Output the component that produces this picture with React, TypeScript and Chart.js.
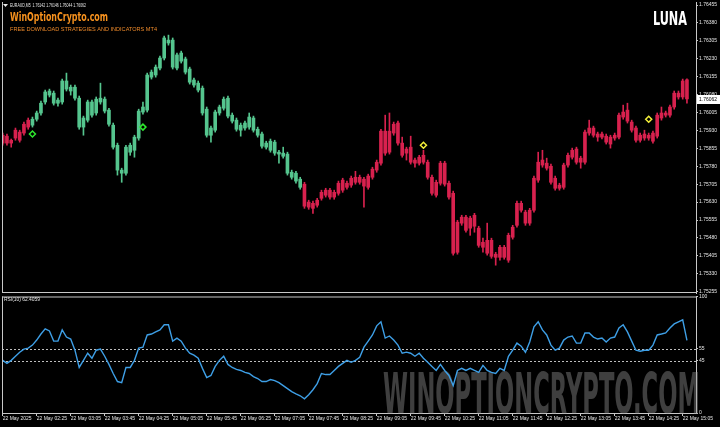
import React, { useEffect, useRef } from 'react';
import { Chart, registerables } from 'chart.js';
Chart.register(...registerables);

// ---------------- data ----------------
const symbolTitle = 'EURAUD,M5  1.76142 1.76146 1.76044 1.76062';
const brandTitle = 'WinOptionCrypto.com';
const brandSubtitle = 'FREE DOWNLOAD STRATEGIES AND INDICATORS MT4';
const indicatorName = 'LUNA';
const rsiPeriod = 10;

const openPrices = [
  1.75877, 1.75906, 1.75889, 1.75898, 1.75923, 1.75919, 1.75944, 1.75952, 1.75977, 1.76003,
  1.76049, 1.76095, 1.76086, 1.76057, 1.76049, 1.76137, 1.76111, 1.76111, 1.76065, 1.75944,
  1.75973, 1.75994, 1.76003, 1.76065, 1.76061, 1.76015, 1.75952, 1.75868, 1.75751, 1.75751,
  1.75839, 1.75847, 1.75898, 1.76007, 1.76015, 1.76153, 1.76162, 1.76191, 1.76233, 1.76308,
  1.76308, 1.76191, 1.76254, 1.76229, 1.76187, 1.76141, 1.76128, 1.76107, 1.76019, 1.75910,
  1.75931, 1.76003, 1.76023, 1.76065, 1.75994, 1.75973, 1.75931, 1.75940, 1.75944, 1.75982,
  1.75935, 1.75915, 1.75860, 1.75885, 1.75881, 1.75839, 1.75835, 1.75831, 1.75755, 1.75751,
  1.75726, 1.75705, 1.75630, 1.75604, 1.75617, 1.75646, 1.75659, 1.75680, 1.75651, 1.75667,
  1.75680, 1.75692, 1.75701, 1.75734, 1.75734, 1.75697, 1.75692, 1.75734, 1.75764, 1.75793,
  1.75927, 1.75839, 1.75919, 1.75961, 1.75877, 1.75835, 1.75860, 1.75793, 1.75793, 1.75826,
  1.75797, 1.75734, 1.75659, 1.75709, 1.75793, 1.75709, 1.75667, 1.75420, 1.75542, 1.75567,
  1.75521, 1.75575, 1.75521, 1.75441, 1.75470, 1.75470, 1.75399, 1.75399, 1.75441, 1.75387,
  1.75483, 1.75533, 1.75625, 1.75588, 1.75542, 1.75596, 1.75722, 1.75806, 1.75793, 1.75780,
  1.75730, 1.75688, 1.75692, 1.75785, 1.75818, 1.75852, 1.75797, 1.75797, 1.75919, 1.75940,
  1.75915, 1.75915, 1.75906, 1.75873, 1.75898, 1.75902, 1.75986, 1.76015, 1.75965, 1.75940,
  1.75889, 1.75915, 1.75898, 1.75885, 1.75906, 1.76003, 1.75994, 1.75994, 1.76028, 1.76086,
  1.76070, 1.76142,
];
const highPrices = [
  1.75919, 1.75915, 1.75894, 1.75940, 1.75931, 1.75965, 1.75982, 1.75986, 1.76011, 1.76053,
  1.76099, 1.76103, 1.76095, 1.76065, 1.76145, 1.76170, 1.76120, 1.76120, 1.76074, 1.75990,
  1.76057, 1.76057, 1.76070, 1.76128, 1.76070, 1.76023, 1.75961, 1.75877, 1.75772, 1.75868,
  1.75877, 1.75910, 1.76019, 1.76049, 1.76170, 1.76183, 1.76204, 1.76241, 1.76325, 1.76329,
  1.76317, 1.76254, 1.76262, 1.76237, 1.76195, 1.76149, 1.76137, 1.76116, 1.76028, 1.75948,
  1.76015, 1.76036, 1.76070, 1.76074, 1.76003, 1.75982, 1.75961, 1.75969, 1.76003, 1.75990,
  1.75944, 1.75923, 1.75885, 1.75894, 1.75889, 1.75847, 1.75860, 1.75839, 1.75764, 1.75759,
  1.75734, 1.75713, 1.75638, 1.75634, 1.75646, 1.75680, 1.75688, 1.75688, 1.75680, 1.75718,
  1.75730, 1.75718, 1.75739, 1.75759, 1.75743, 1.75734, 1.75747, 1.75776, 1.75806, 1.75935,
  1.75994, 1.76003, 1.75965, 1.75969, 1.75902, 1.75860, 1.75906, 1.75814, 1.75826, 1.75847,
  1.75806, 1.75743, 1.75722, 1.75801, 1.75801, 1.75718, 1.75676, 1.75554, 1.75575, 1.75575,
  1.75571, 1.75583, 1.75529, 1.75479, 1.75542, 1.75479, 1.75420, 1.75449, 1.75449, 1.75500,
  1.75533, 1.75634, 1.75634, 1.75596, 1.75604, 1.75739, 1.75839, 1.75847, 1.75814, 1.75789,
  1.75739, 1.75709, 1.75793, 1.75835, 1.75856, 1.75860, 1.75822, 1.75931, 1.75973, 1.75948,
  1.75923, 1.75923, 1.75915, 1.75910, 1.75919, 1.76003, 1.76036, 1.76044, 1.75973, 1.75948,
  1.75919, 1.75931, 1.75919, 1.75927, 1.76003, 1.76028, 1.76011, 1.76036, 1.76095, 1.76095,
  1.76145, 1.76146,
];
const lowPrices = [
  1.75868, 1.75868, 1.75860, 1.75889, 1.75881, 1.75910, 1.75935, 1.75944, 1.75969, 1.75994,
  1.76040, 1.76070, 1.76036, 1.76032, 1.76040, 1.76095, 1.76078, 1.76057, 1.75935, 1.75910,
  1.75965, 1.75986, 1.75994, 1.76040, 1.76003, 1.75948, 1.75852, 1.75743, 1.75713, 1.75743,
  1.75826, 1.75818, 1.75889, 1.75998, 1.76007, 1.76145, 1.76153, 1.76183, 1.76225, 1.76287,
  1.76187, 1.76183, 1.76212, 1.76166, 1.76124, 1.76111, 1.76091, 1.75994, 1.75902, 1.75881,
  1.75923, 1.75994, 1.76015, 1.75982, 1.75961, 1.75927, 1.75906, 1.75931, 1.75935, 1.75923,
  1.75902, 1.75856, 1.75852, 1.75839, 1.75826, 1.75793, 1.75814, 1.75743, 1.75726, 1.75709,
  1.75684, 1.75604, 1.75600, 1.75583, 1.75609, 1.75638, 1.75651, 1.75642, 1.75642, 1.75659,
  1.75671, 1.75684, 1.75692, 1.75705, 1.75705, 1.75609, 1.75684, 1.75726, 1.75755, 1.75785,
  1.75826, 1.75831, 1.75910, 1.75868, 1.75818, 1.75806, 1.75789, 1.75776, 1.75785, 1.75789,
  1.75726, 1.75659, 1.75651, 1.75701, 1.75697, 1.75642, 1.75408, 1.75412, 1.75533, 1.75504,
  1.75491, 1.75504, 1.75441, 1.75420, 1.75408, 1.75395, 1.75366, 1.75387, 1.75391, 1.75378,
  1.75475, 1.75525, 1.75588, 1.75533, 1.75533, 1.75588, 1.75713, 1.75776, 1.75764, 1.75705,
  1.75680, 1.75680, 1.75684, 1.75776, 1.75810, 1.75789, 1.75772, 1.75789, 1.75910, 1.75902,
  1.75885, 1.75894, 1.75873, 1.75856, 1.75889, 1.75894, 1.75977, 1.75961, 1.75923, 1.75881,
  1.75881, 1.75889, 1.75889, 1.75877, 1.75898, 1.75973, 1.75986, 1.75986, 1.76019, 1.76061,
  1.76061, 1.76044,
];
const closePrices = [
  1.75910, 1.75877, 1.75877, 1.75931, 1.75889, 1.75956, 1.75973, 1.75977, 1.76003, 1.76044,
  1.76091, 1.76078, 1.76044, 1.76044, 1.76137, 1.76103, 1.76095, 1.76065, 1.75944, 1.75982,
  1.76049, 1.76049, 1.76061, 1.76049, 1.76011, 1.75956, 1.75860, 1.75764, 1.75764, 1.75860,
  1.75868, 1.75902, 1.76011, 1.76028, 1.76162, 1.76174, 1.76195, 1.76233, 1.76317, 1.76296,
  1.76195, 1.76246, 1.76220, 1.76174, 1.76132, 1.76120, 1.76099, 1.76003, 1.75910, 1.75940,
  1.76007, 1.76028, 1.76061, 1.75990, 1.75969, 1.75935, 1.75952, 1.75961, 1.75986, 1.75931,
  1.75910, 1.75864, 1.75877, 1.75847, 1.75835, 1.75831, 1.75822, 1.75751, 1.75734, 1.75718,
  1.75692, 1.75613, 1.75609, 1.75625, 1.75638, 1.75671, 1.75680, 1.75651, 1.75671, 1.75709,
  1.75722, 1.75709, 1.75730, 1.75713, 1.75713, 1.75726, 1.75739, 1.75768, 1.75797, 1.75927,
  1.75835, 1.75927, 1.75956, 1.75877, 1.75826, 1.75852, 1.75797, 1.75806, 1.75818, 1.75797,
  1.75734, 1.75667, 1.75713, 1.75793, 1.75705, 1.75651, 1.75416, 1.75546, 1.75567, 1.75512,
  1.75563, 1.75529, 1.75449, 1.75462, 1.75416, 1.75403, 1.75412, 1.75441, 1.75399, 1.75491,
  1.75525, 1.75625, 1.75596, 1.75542, 1.75596, 1.75730, 1.75797, 1.75785, 1.75772, 1.75713,
  1.75688, 1.75701, 1.75785, 1.75826, 1.75847, 1.75797, 1.75814, 1.75923, 1.75940, 1.75910,
  1.75902, 1.75902, 1.75881, 1.75902, 1.75910, 1.75994, 1.76007, 1.75969, 1.75931, 1.75889,
  1.75910, 1.75898, 1.75910, 1.75919, 1.75994, 1.75982, 1.76003, 1.76028, 1.76086, 1.76070,
  1.76137, 1.76062,
];

// LUNA trend colouring: [number of bars, trend]
const trendRuns: [number, 'up' | 'down'][] = [
  [7, 'down'],
  [64, 'up'],
  [91, 'down'],
];
// LUNA signal markers (bar index, price)
const buySignalBars = [7, 33];
const buySignalPrices = [1.75915, 1.75944];
const sellSignalBars = [99, 152];
const sellSignalPrices = [1.75868, 1.75977];

const rsiValues = [
  45.2, 42.6, 45.2, 48.7, 52.2, 54.8, 55.7, 58.3, 62.6, 67.8,
  72.2, 70.4, 61.7, 61.7, 71.3, 65.2, 63.5, 53.9, 39.1, 45.2,
  51.3, 47.0, 53.9, 54.8, 48.7, 41.7, 33.9, 27.0, 26.1, 39.1,
  39.1, 45.2, 55.7, 56.5, 67.0, 67.8, 69.6, 71.3, 75.7, 75.7,
  61.7, 64.3, 61.7, 55.7, 51.3, 49.6, 47.0, 38.3, 30.4, 32.2,
  40.0, 45.2, 48.7, 41.7, 39.1, 37.4, 36.5, 34.8, 33.9, 31.3,
  29.6, 27.0, 27.0, 28.7, 27.8, 26.1, 23.5, 20.9, 18.3, 16.5,
  14.8, 12.2, 15.7, 20.0, 25.2, 33.9, 33.0, 33.0, 36.5, 40.0,
  42.6, 45.2, 43.5, 45.2, 47.8, 56.5, 61.7, 67.0, 74.8, 78.3,
  64.3, 66.1, 62.6, 58.3, 51.3, 52.2, 51.3, 48.7, 51.3, 47.0,
  43.5, 40.0, 36.5, 41.7, 36.5, 32.2, 23.5, 36.5, 38.3, 36.5,
  38.3, 36.5, 34.8, 40.9, 36.5, 34.8, 33.9, 38.3, 36.5, 48.7,
  53.9, 60.0, 57.4, 52.2, 60.9, 73.9, 78.3, 71.3, 67.0, 58.3,
  53.9, 55.7, 62.6, 65.2, 66.1, 60.0, 60.0, 68.7, 68.7, 65.2,
  63.5, 64.3, 60.9, 64.3, 65.2, 73.0, 75.7, 69.6, 61.7, 53.9,
  53.0, 53.9, 53.9, 58.3, 67.0, 67.8, 68.7, 73.0, 76.5, 78.3,
  80.0, 62.4059,
];
const rsiLevels = [55, 45];
const rsiTicks = [0, 45, 55, 100];

const priceTicks = [
  1.75255, 1.7533, 1.75405, 1.7548, 1.75555, 1.7563, 1.75705, 1.7578, 1.75855,
  1.7593, 1.76005, 1.7608, 1.76155, 1.7623, 1.76305, 1.7638, 1.76455,
];
const timeTickLabels = [
  '22 May 2025', '22 May 02:25', '22 May 03:05', '22 May 03:45', '22 May 04:25',
  '22 May 05:05', '22 May 05:45', '22 May 06:25', '22 May 07:05', '22 May 07:45',
  '22 May 08:25', '22 May 09:05', '22 May 09:45', '22 May 10:25', '22 May 11:05',
  '22 May 11:45', '22 May 12:25', '22 May 13:05', '22 May 13:45', '22 May 14:25',
  '22 May 15:05',
];
const barsPerTimeLabel = 8;
const watermarkText = 'WINOPTIONCRYPTO.COM';

// ---------------- styling ----------------
const GREEN = '#55c58e';
const RED = '#d8214e';
const BUY_COLOR = '#2ee82e';
const SELL_COLOR = '#f4f03a';
const RSI_COLOR = '#3e9fe6';
const FRAME = '#c8c8c8';
const TEXT = '#e6e6e6';
const SMALL_FONT = '"Liberation Sans", Arial, sans-serif';
const COND_FONT = '"DejaVu Sans Condensed", "Liberation Sans Narrow", "DejaVu Sans", sans-serif';

const X_MIN = -0.165;
const X_MAX = 163.13;

const trend: string[] = [];
trendRuns.forEach(([n, t]) => {
  for (let k = 0; k < n; k++) trend.push(t);
});
const barColor = (i: number) => (trend[i] === 'up' ? GREEN : RED);

function fitText(
  ctx: CanvasRenderingContext2D,
  text: string,
  x: number,
  yMid: number,
  width: number,
  font: string,
  color: string
) {
  ctx.save();
  ctx.font = font;
  ctx.fillStyle = color;
  ctx.textBaseline = 'middle';
  ctx.textAlign = 'left';
  const w = ctx.measureText(text).width || 1;
  ctx.translate(x, yMid);
  ctx.scale(width / w, 1);
  ctx.fillText(text, 0, 0);
  ctx.restore();
}

const mainDecor = {
  id: 'mainDecor',
  afterDraw(chart: any) {
    const { ctx, chartArea: a, scales } = chart;
    const y = scales.y;
    ctx.save();
    // frame
    ctx.strokeStyle = FRAME;
    ctx.lineWidth = 1;
    ctx.beginPath();
    ctx.moveTo(a.left + 0.5, a.top);
    ctx.lineTo(a.left + 0.5, a.bottom);
    ctx.moveTo(a.left, a.bottom - 0.5);
    ctx.lineTo(a.right, a.bottom - 0.5);
    ctx.stroke();
    // header
    ctx.fillStyle = TEXT;
    ctx.beginPath();
    ctx.moveTo(3, 4);
    ctx.lineTo(8, 4);
    ctx.lineTo(5.5, 7);
    ctx.closePath();
    ctx.fill();
    ctx.restore();
    fitText(ctx, symbolTitle, 10, 5.5, 76, `5px ${SMALL_FONT}`, TEXT);
    fitText(ctx, brandTitle, 10, 17.5, 98, `bold 13px ${COND_FONT}`, '#f7921e');
    fitText(ctx, brandSubtitle, 10, 29, 147, `6px ${SMALL_FONT}`, '#ee8a2a');
    fitText(ctx, indicatorName, 653, 20, 34, `bold 19px ${COND_FONT}`, '#ffffff');
    // current price box
    const last = closePrices[closePrices.length - 1];
    const py = y.getPixelForValue(last);
    ctx.save();
    ctx.fillStyle = '#ffffff';
    ctx.fillRect(697, Math.round(py) - 4, 23, 9);
    ctx.restore();
    fitText(ctx, last.toFixed(5), 699, Math.round(py) + 0.5, 18, `5px ${SMALL_FONT}`, '#000000');
  },
};

const rsiDecor = {
  id: 'rsiDecor',
  beforeDatasetsDraw(chart: any) {
    const { ctx, chartArea: a, scales } = chart;
    const y = scales.y;
    // watermark
    ctx.save();
    ctx.font = `bold 60px ${COND_FONT}`;
    ctx.fillStyle = 'rgba(150,150,150,0.42)';
    ctx.textBaseline = 'alphabetic';
    const w = ctx.measureText(watermarkText).width || 1;
    ctx.translate(383, a.bottom + 1);
    ctx.scale(317 / w, 0.95);
    ctx.fillText(watermarkText, 0, 0);
    ctx.restore();
    // levels
    ctx.save();
    ctx.strokeStyle = '#bdbdbd';
    ctx.lineWidth = 1;
    ctx.setLineDash([2, 2]);
    rsiLevels.forEach((lv) => {
      const py = Math.round(y.getPixelForValue(lv)) + 0.5;
      ctx.beginPath();
      ctx.moveTo(a.left, py);
      ctx.lineTo(a.right, py);
      ctx.stroke();
    });
    ctx.restore();
  },
  afterDraw(chart: any) {
    const { ctx, chartArea: a } = chart;
    ctx.save();
    ctx.strokeStyle = FRAME;
    ctx.lineWidth = 1;
    ctx.beginPath();
    ctx.moveTo(a.left, a.top + 0.5);
    ctx.lineTo(a.right, a.top + 0.5);
    ctx.moveTo(a.left + 0.5, a.top);
    ctx.lineTo(a.left + 0.5, a.bottom);
    ctx.stroke();
    ctx.restore();
    const lastRsi = rsiValues[rsiValues.length - 1];
    fitText(ctx, `RSI(${rsiPeriod}) ${lastRsi.toFixed(4)}`, 4, a.top + 3.5, 36, `5px ${SMALL_FONT}`, TEXT);
  },
};

function mainConfig(): any {
  return {
    data: {
      datasets: [
        {
          type: 'bar',
          data: lowPrices.map((l, i) => ({ x: i, y: [l, highPrices[i]] })),
          backgroundColor: (c: any) => barColor(c.dataIndex),
          barThickness: 1,
          grouped: false,
          order: 3,
        },
        {
          type: 'bar',
          data: openPrices.map((o, i) => ({
            x: i,
            y: [Math.min(o, closePrices[i]), Math.max(o, closePrices[i])],
          })),
          backgroundColor: (c: any) => barColor(c.dataIndex),
          barThickness: 3,
          minBarLength: 1,
          grouped: false,
          order: 2,
        },
        {
          type: 'line',
          data: buySignalBars.map((b, k) => ({ x: b, y: buySignalPrices[k] })),
          showLine: false,
          pointStyle: 'rectRot',
          pointRadius: 3,
          pointBorderWidth: 1.5,
          pointBorderColor: BUY_COLOR,
          pointBackgroundColor: 'rgba(0,0,0,0)',
          order: 1,
        },
        {
          type: 'line',
          data: sellSignalBars.map((b, k) => ({ x: b, y: sellSignalPrices[k] })),
          showLine: false,
          pointStyle: 'rectRot',
          pointRadius: 3,
          pointBorderWidth: 1.5,
          pointBorderColor: SELL_COLOR,
          pointBackgroundColor: 'rgba(0,0,0,0)',
          order: 1,
        },
      ],
    },
    options: {
      animation: false,
      responsive: false,
      events: [],
      layout: { autoPadding: false, padding: { left: 2, top: 2, right: 0, bottom: 1 } },
      plugins: { legend: { display: false }, tooltip: { enabled: false } },
      scales: {
        x: { type: 'linear', min: X_MIN, max: X_MAX, display: false, offset: false },
        y: {
          position: 'right',
          min: 1.752496,
          max: 1.764676,
          afterBuildTicks: (s: any) => {
            s.ticks = priceTicks.map((v) => ({ value: v }));
          },
          afterFit: (s: any) => {
            s.width = 24;
            s.paddingTop = 0;
            s.paddingBottom = 0;
          },
          ticks: {
            color: TEXT,
            font: { size: 5, family: SMALL_FONT },
            padding: 1,
            callback: (v: any) => Number(v).toFixed(5),
          },
          grid: { drawOnChartArea: false, color: FRAME, tickLength: 2 },
          border: { color: FRAME },
        },
      },
    },
    plugins: [mainDecor],
  };
}

function rsiConfig(): any {
  return {
    type: 'line',
    data: {
      datasets: [
        {
          data: rsiValues.map((v, i) => ({ x: i, y: v })),
          borderColor: RSI_COLOR,
          borderWidth: 1.4,
          pointRadius: 0,
          tension: 0,
        },
      ],
    },
    options: {
      animation: false,
      responsive: false,
      events: [],
      layout: { autoPadding: false, padding: { left: 2, top: 2.5, right: 0, bottom: 0 } },
      plugins: { legend: { display: false }, tooltip: { enabled: false } },
      scales: {
        x: {
          type: 'linear',
          min: X_MIN,
          max: X_MAX,
          afterBuildTicks: (s: any) => {
            s.ticks = timeTickLabels.map((_, k) => ({ value: k * barsPerTimeLabel }));
          },
          afterFit: (s: any) => {
            s.height = 14;
            s.paddingLeft = 0;
            s.paddingRight = 0;
          },
          ticks: {
            autoSkip: false,
            maxRotation: 0,
            align: 'start',
            padding: 0,
            color: TEXT,
            font: { size: 5, family: SMALL_FONT },
            callback: (_v: any, i: number) => timeTickLabels[i],
          },
          grid: { drawOnChartArea: false, color: FRAME, tickLength: 3 },
          border: { color: FRAME },
        },
        y: {
          position: 'right',
          min: 0,
          max: 100,
          afterBuildTicks: (s: any) => {
            s.ticks = rsiTicks.map((v) => ({ value: v }));
          },
          afterFit: (s: any) => {
            s.width = 24;
            s.paddingTop = 0;
            s.paddingBottom = 0;
          },
          ticks: {
            color: TEXT,
            font: { size: 5, family: SMALL_FONT },
            padding: 1,
          },
          grid: { drawOnChartArea: false, color: FRAME, tickLength: 2 },
          border: { color: FRAME },
        },
      },
    },
    plugins: [rsiDecor],
  };
}

export default function App() {
  const mainRef = useRef<HTMLCanvasElement>(null);
  const rsiRef = useRef<HTMLCanvasElement>(null);
  useEffect(() => {
    document.body.style.margin = '0';
    document.body.style.background = '#000';
    const main = new Chart(mainRef.current as HTMLCanvasElement, mainConfig());
    const rsi = new Chart(rsiRef.current as HTMLCanvasElement, rsiConfig());
    return () => {
      main.destroy();
      rsi.destroy();
    };
  }, []);
  return (
    <div style={{ position: 'relative', width: 720, height: 427, background: '#000', overflow: 'hidden' }}>
      <canvas
        ref={mainRef}
        width={720}
        height={294}
        style={{ position: 'absolute', left: 0, top: 0, width: 720, height: 294 }}
      />
      <canvas
        ref={rsiRef}
        width={720}
        height={133}
        style={{ position: 'absolute', left: 0, top: 294, width: 720, height: 133 }}
      />
    </div>
  );
}
